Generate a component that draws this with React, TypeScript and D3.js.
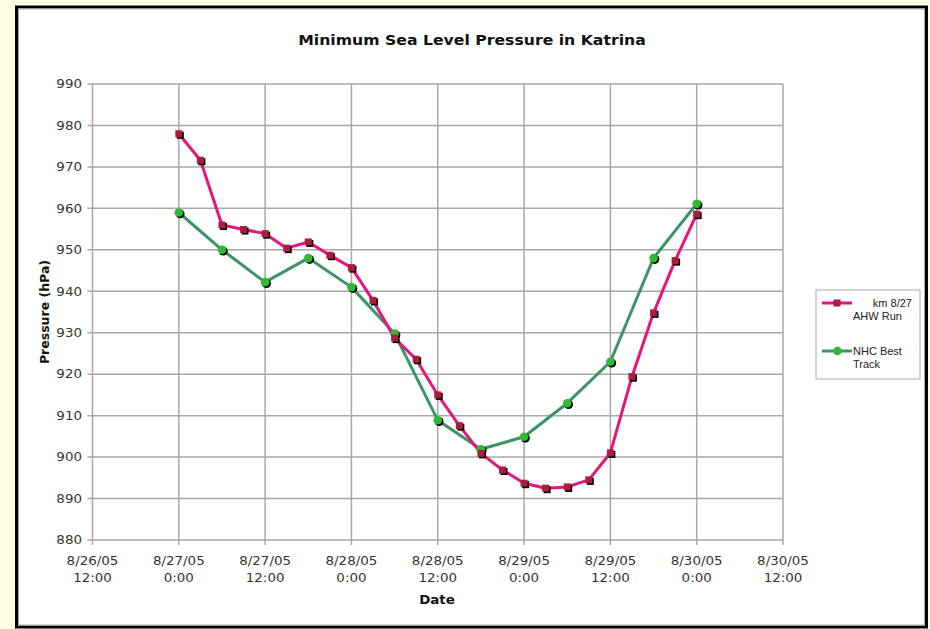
import React from "react";
import * as d3 from "d3";

const ahwStart = new Date(2005, 7, 27, 0, 0);
const ahwStepHours = 3;
const ahwValues = [978, 971.6, 956, 954.9, 953.9, 950.4, 951.9, 948.7, 945.7, 937.8, 928.7, 923.6, 915, 907.6, 900.9, 896.9, 893.7, 892.5, 892.8, 894.5, 901, 919.4, 934.8, 947.4, 958.6];

const nhcStart = new Date(2005, 7, 27, 0, 0);
const nhcStepHours = 6;
const nhcValues = [959, 950, 942.2, 948, 941, 929.8, 908.9, 901.9, 904.9, 913, 923, 948, 961.1];

const yTicks = [880, 890, 900, 910, 920, 930, 940, 950, 960, 970, 980, 990];
const xTickLabels = [
  ["8/26/05", "12:00"],
  ["8/27/05", "0:00"],
  ["8/27/05", "12:00"],
  ["8/28/05", "0:00"],
  ["8/28/05", "12:00"],
  ["8/29/05", "0:00"],
  ["8/29/05", "12:00"],
  ["8/30/05", "0:00"],
  ["8/30/05", "12:00"],
];
const xDomain = [new Date(2005, 7, 26, 12, 0), new Date(2005, 7, 30, 12, 0)];
const title = "Minimum Sea Level Pressure in Katrina";
const yTitle = "Pressure (hPa)";
const xTitle = "Date";
const legendAhw = ["km 8/27", "AHW Run"];
const legendNhc = ["NHC Best", "Track"];

const W = 930, H = 629;
const PL = 92.5, PR = 783, PT = 84, PB = 540;
const SX = 1.12;
const font = "'DejaVu Sans', Verdana, sans-serif";
const AHW_LINE = "#e5157e";
const AHW_MARK = "#a81f3d";
const NHC_LINE = "#3b9466";
const NHC_MARK = "#33b833";
const GRID = "#a8a8a8";
const legendFont = "'Liberation Sans', Arial, sans-serif";

function ST({ x, y, anchor = "middle", size = 12, weight = "normal", fill = "#222", children }: any) {
  return (
    <g transform={`translate(${x},${y}) scale(${SX},1)`}>
      <text x={0} y={0} textAnchor={anchor} fontSize={size} fontWeight={weight} fill={fill} fontFamily={font} dominantBaseline="central">
        {children}
      </text>
    </g>
  );
}

export default function App() {
  const x = d3.scaleTime().domain(xDomain).range([PL, PR]);
  const y = d3.scaleLinear().domain([880, 990]).range([PB, PT]);
  const hour = 3600 * 1000;
  const ahw = ahwValues.map((v, i) => ({ t: new Date(ahwStart.getTime() + i * ahwStepHours * hour), v }));
  const nhc = nhcValues.map((v, i) => ({ t: new Date(nhcStart.getTime() + i * nhcStepHours * hour), v }));
  const line = d3.line<any>().x((d) => x(d.t)).y((d) => y(d.v));
  const xTicks = d3.timeHour.every(12)!.range(xDomain[0], new Date(xDomain[1].getTime() + 1));

  return (
    <svg width={W} height={H} style={{ position: "absolute", left: 0, top: 0 }}>
      <rect x={0} y={0} width={W} height={H} fill="#ffffe4" />
      <rect x={16.5} y={7} width={910} height={620} fill="#fff" stroke="#000" strokeWidth={3} />
      <rect x={18.5} y={9} width={906} height={616} fill="none" stroke="#aaa" strokeWidth={1} />
      <ST x={472} y={40} size={14} weight="bold" fill="#111">{title}</ST>

      {yTicks.map((t) => (
        <g key={t}>
          <line x1={PL - 5} x2={PR} y1={y(t)} y2={y(t)} stroke={GRID} strokeWidth={1.5} />
          <ST x={82} y={y(t)} anchor="end" size={12} fill="#333">{t}</ST>
        </g>
      ))}
      {xTicks.map((t, i) => (
        <g key={i}>
          <line x1={x(t)} x2={x(t)} y1={PT} y2={PB + 5} stroke={GRID} strokeWidth={1.5} />
          <ST x={x(t)} y={561} size={12} fill="#333">{xTickLabels[i][0]}</ST>
          <ST x={x(t)} y={578} size={12} fill="#333">{xTickLabels[i][1]}</ST>
        </g>
      ))}
      <ST x={437} y={600} size={12} weight="bold" fill="#111">{xTitle}</ST>
      <text transform={`translate(44,312) rotate(-90)`} textAnchor="middle" dominantBaseline="central" fontSize={12.5} fontWeight="bold" fontFamily={font} fill="#111">{yTitle}</text>

      <path d={line(nhc) || ""} fill="none" stroke={NHC_LINE} strokeWidth={3} strokeLinejoin="round" />
      <path d={line(ahw) || ""} fill="none" stroke={AHW_LINE} strokeWidth={3} strokeLinejoin="round" />
      {nhc.map((d, i) => (
        <g key={"n" + i}>
          <circle cx={x(d.t) + 1.3} cy={y(d.v) + 1.3} r={4.5} fill="#000" />
          <circle cx={x(d.t)} cy={y(d.v)} r={4.3} fill={NHC_MARK} />
        </g>
      ))}
      {ahw.map((d, i) => (
        <g key={"a" + i}>
          <rect x={x(d.t) - 3.5 + 1.5} y={y(d.v) - 3.5 + 1.5} width={7} height={7} fill="#000" />
          <rect x={x(d.t) - 3.5} y={y(d.v) - 3.5} width={7} height={7} fill={AHW_MARK} />
        </g>
      ))}

      <g>
        <rect x={816} y={290} width={104} height={89} fill="#fff" stroke="#aaa" strokeWidth={1} />
        <line x1={822} x2={852} y1={303} y2={303} stroke={AHW_LINE} strokeWidth={3} />
        <rect x={833.5} y={299.5} width={7} height={7} fill={AHW_MARK} />
        <text x={912} y={303} textAnchor="end" dominantBaseline="central" fontSize={11} fontFamily={legendFont} fill="#222">{legendAhw[0]}</text>
        <text x={853} y={316} dominantBaseline="central" fontSize={11} fontFamily={legendFont} fill="#222">{legendAhw[1]}</text>
        <line x1={822} x2={852} y1={351} y2={351} stroke={NHC_LINE} strokeWidth={3} />
        <circle cx={837.5} cy={351} r={4.3} fill={NHC_MARK} />
        <text x={853} y={351} dominantBaseline="central" fontSize={11} fontFamily={legendFont} fill="#222">{legendNhc[0]}</text>
        <text x={853} y={364} dominantBaseline="central" fontSize={11} fontFamily={legendFont} fill="#222">{legendNhc[1]}</text>
      </g>
    </svg>
  );
}
